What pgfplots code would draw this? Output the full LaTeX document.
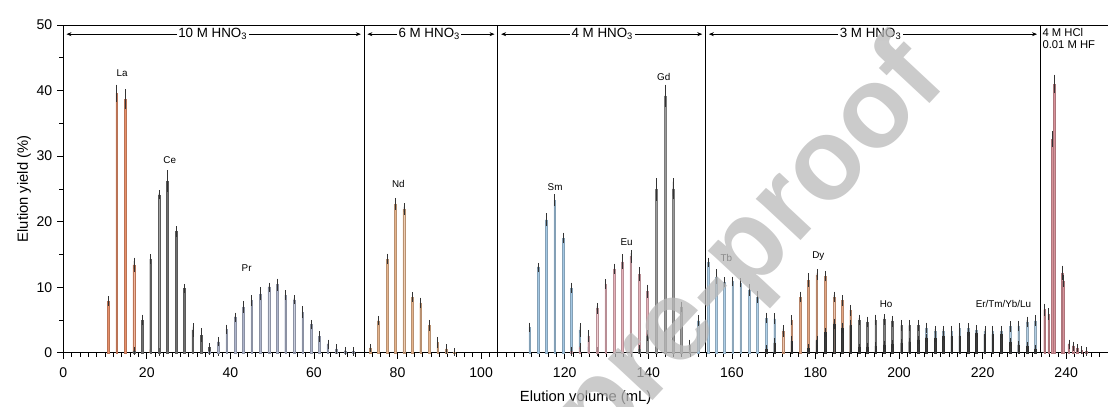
\documentclass[border=0pt]{standalone}
\usepackage{fontspec}
\setmainfont{Liberation Sans}
\usepackage{pgfplots}
\usepackage{pgfplotstable}
\pgfplotsset{compat=1.18}
\usetikzlibrary{arrows.meta}

\definecolor{cLa}{HTML}{E8906A}
\definecolor{cCe}{HTML}{707070}
\definecolor{cPr}{HTML}{AEB5CC}
\definecolor{cNd}{HTML}{E6B48C}
\definecolor{cSm}{HTML}{A4C8E4}
\definecolor{cEu}{HTML}{E6B2BA}
\definecolor{cGd}{HTML}{9A9A9A}
\definecolor{cTb}{HTML}{AFD0E8}
\definecolor{cDy}{HTML}{E4A683}
\definecolor{cHo}{HTML}{808080}
\definecolor{cEr}{HTML}{B2CDE2}
\definecolor{cLow}{HTML}{3C3C3C}
\definecolor{cHCl}{HTML}{D8929A}
\definecolor{wm}{HTML}{B9B9B9}

% elution fractions: x = volume (mL), y = yield (%), e = error
\pgfplotstableread{
x y e
10.8 7.9 0.2
12.8 39.6 0.8
14.8 38.7 1.0
16.9 13.4 0.6
18.9 2.0 0.2
20.9 0.5 0.2
22.9 0.1 0.1
}\tLa
\pgfplotstableread{
x y e
16.9 0.3 0.1
18.9 5.0 0.3
20.9 14.3 0.2
22.9 24.1 0.2
24.9 26.2 1.1
27.0 18.5 0.3
29.0 9.8 0.2
31.0 3.5 0.5
33.0 2.7 0.5
35.0 0.8 0.2
37.1 0.2 0.1
}\tCe
\pgfplotstableread{
x y e
35.0 0.3 0.1
37.1 1.7 0.2
39.1 3.6 0.2
41.1 5.4 0.2
43.1 7.0 0.4
45.1 8.0 0.3
47.2 9.0 0.5
49.2 10.0 0.2
51.2 10.4 0.4
53.2 8.8 0.2
55.2 8.1 0.2
57.3 6.2 0.4
59.3 4.3 0.2
61.3 2.5 0.3
63.3 1.3 0.2
65.3 0.6 0.2
67.4 0.3 0.1
69.4 0.2 0.1
}\tPr
\pgfplotstableread{
x y e
73.4 0.7 0.1
75.4 4.9 0.2
77.5 14.3 0.3
79.5 22.7 0.4
81.5 21.9 0.4
83.5 8.5 0.2
85.5 7.6 0.3
87.6 4.2 0.3
89.6 1.6 0.3
91.6 0.6 0.2
93.6 0.1 0.1
}\tNd
\pgfplotstableread{
x y e
111.6 3.9 0.2
113.6 13.0 0.2
115.6 20.3 0.5
117.6 23.3 0.4
119.6 17.5 0.3
121.6 9.9 0.3
123.6 3.5 0.5
125.7 0.9 0.2
127.7 0.2 0.1
}\tSm
\pgfplotstableread{
x y e
121.6 0.2 0.1
123.6 0.8 0.2
125.7 2.6 0.4
127.7 6.8 0.3
129.8 10.5 0.2
131.8 12.8 0.3
133.8 13.9 0.6
135.8 14.7 0.5
137.8 12.0 0.6
139.8 9.4 0.5
141.9 3.5 0.5
144.0 0.8 0.2
145.9 0.3 0.1
}\tEu
\pgfplotstableread{
x y e
137.8 0.5 0.2
139.8 2.6 0.3
141.9 24.9 1.2
144.0 39.2 1.2
145.9 25.0 1.1
147.9 7.0 0.3
149.9 1.2 0.3
}\tGd
\pgfplotstableread{
x y e
151.9 4.9 0.3
154.3 13.8 0.2
156.3 11.6 0.6
158.2 10.8 0.2
160.2 10.9 0.2
162.1 10.7 0.2
164.1 9.6 0.4
166.1 8.5 0.4
168.2 5.3 0.3
170.2 5.2 0.3
}\tTb
\pgfplotstableread{
x y e
172.2 3.3 0.4
174.3 5.0 0.2
176.4 8.5 0.3
178.3 11.1 0.5
180.3 11.9 0.3
182.3 11.7 0.3
184.4 8.5 0.3
186.4 8.0 0.3
188.4 6.5 0.3
}\tDy
\pgfplotstableread{
x y e
190.4 5.0 0.3
192.4 4.7 0.3
194.4 5.0 0.3
196.4 5.1 0.3
198.3 4.8 0.3
200.6 4.2 0.3
202.5 4.2 0.3
204.6 4.2 0.3
}\tHo
\pgfplotstableread{
x y e
206.5 3.8 0.3
208.6 3.3 0.3
210.5 3.3 0.3
212.6 3.3 0.3
214.5 3.7 0.3
216.6 3.7 0.3
218.5 3.4 0.3
220.5 3.3 0.3
222.4 3.3 0.3
224.5 3.3 0.3
226.6 4.0 0.3
228.6 4.1 0.3
230.6 4.7 0.3
232.6 4.9 0.3
}\tEr
\pgfplotstableread{
x y e
168.2 0.5 0.1
170.2 1.5 0.2
174.3 1.8 0.2
178.3 0.7 0.1
180.3 1.9 0.2
182.3 3.1 0.2
184.4 4.4 0.3
186.4 3.8 0.3
188.4 4.2 0.3
190.4 0.8 0.1
192.4 0.9 0.1
194.4 1.0 0.1
196.4 1.2 0.1
198.3 1.3 0.1
200.6 1.5 0.1
202.5 1.7 0.1
204.6 2.0 0.1
206.5 2.3 0.1
208.6 2.2 0.1
210.5 2.5 0.1
212.6 2.5 0.1
214.5 2.6 0.1
216.6 3.2 0.1
218.5 3.0 0.1
220.5 2.8 0.1
222.4 2.8 0.1
224.5 2.8 0.1
226.6 1.6 0.1
228.6 1.2 0.1
230.6 1.0 0.1
232.6 0.6 0.1
}\tLow
\pgfplotstableread{
x y e
234.8 6.6 0.4
235.8 5.9 0.4
237.1 41.0 0.9
239.1 12.2 0.6
240.6 1.3 0.2
241.6 1.0 0.2
242.6 0.7 0.1
243.7 0.4 0.1
244.8 0.2 0.1
}\tHCl
\pgfplotstableread{
x y e
236.6 32.6 0.7
239.3 11.0 0.4
}\tHClb

\pgfplotsset{
  elem/.style={ybar, bar width=0.4, fill=#1, draw=#1!80!black, line width=0.2pt,
    error bars/.cd, y dir=both, y explicit,
    error bar style={line width=0.3pt, black!80},
    error mark options={line width=0.3pt, black!80, mark size=2.4pt}},
}

\begin{document}
\begin{tikzpicture}
\begin{axis}[
  at={(15.8mm,13.3mm)}, anchor=south west,
  scale only axis, width=261.2mm, height=81.95mm,
  xmin=0, xmax=250, ymin=0, ymax=50,
  xtick distance=20, ytick={0,10,...,50},
  minor x tick num=9, minor y tick num=1,
  tick align=outside, xtick pos=left, ytick pos=left,
  axis line style={line width=0.7pt},
  tick style={line width=0.5pt, black},
  /pgf/number format/assume math mode=true,
  ticklabel style={font=\fontsize{10}{12}\selectfont},
  xticklabel style={yshift=-1mm},
  label style={font=\fontsize{10.5}{12}\selectfont},
  xlabel={Elution volume (mL)},
  ylabel={Elution yield (\%)},
  xlabel style={yshift=-0.8mm},
  ylabel style={yshift=-1mm},
  clip=false,
]
\addplot[elem=cLa] table[x=x,y=y,y error=e]{\tLa};
\addplot[elem=cCe] table[x=x,y=y,y error=e]{\tCe};
\addplot[elem=cPr] table[x=x,y=y,y error=e]{\tPr};
\addplot[elem=cNd] table[x=x,y=y,y error=e]{\tNd};
\addplot[elem=cSm] table[x=x,y=y,y error=e]{\tSm};
\addplot[elem=cEu] table[x=x,y=y,y error=e]{\tEu};
\addplot[elem=cGd] table[x=x,y=y,y error=e]{\tGd};
\addplot[elem=cTb] table[x=x,y=y,y error=e]{\tTb};
\addplot[elem=cDy] table[x=x,y=y,y error=e]{\tDy};
\addplot[elem=cHo] table[x=x,y=y,y error=e]{\tHo};
\addplot[elem=cEr] table[x=x,y=y,y error=e]{\tEr};
\addplot[elem=cLow] table[x=x,y=y,y error=e]{\tLow};
\addplot[elem=cHCl] table[x=x,y=y,y error=e]{\tHCl};
\addplot[elem=cHCl] table[x=x,y=y,y error=e]{\tHClb};

% eluent changes
\draw[black, line width=0.6pt] (axis cs:72,0) -- (axis cs:72,50);
\draw[black, line width=0.6pt] (axis cs:104,0) -- (axis cs:104,50);
\draw[black, line width=0.6pt] (axis cs:153.7,0) -- (axis cs:153.7,50);
\draw[black, line width=0.6pt] (axis cs:233.8,0) -- (axis cs:233.8,50);
\draw[line width=0.4pt, {Stealth[length=3.5pt,width=2.8pt]}-{Stealth[length=3.5pt,width=2.8pt]}] (axis cs:0.8,48.6) -- (axis cs:71.2,48.6);
\draw[line width=0.4pt, {Stealth[length=3.5pt,width=2.8pt]}-{Stealth[length=3.5pt,width=2.8pt]}] (axis cs:72.8,48.6) -- (axis cs:103.2,48.6);
\draw[line width=0.4pt, {Stealth[length=3.5pt,width=2.8pt]}-{Stealth[length=3.5pt,width=2.8pt]}] (axis cs:104.8,48.6) -- (axis cs:152.9,48.6);
\draw[line width=0.4pt, {Stealth[length=3.5pt,width=2.8pt]}-{Stealth[length=3.5pt,width=2.8pt]}] (axis cs:154.5,48.6) -- (axis cs:233.0,48.6);
\node[fill=white, inner sep=1pt, font=\fontsize{9.5}{11}\selectfont] at (axis cs:35.8,48.6) {10 M HNO\textsubscript{3}};
\node[fill=white, inner sep=1pt, font=\fontsize{9.5}{11}\selectfont] at (axis cs:87.6,48.6) {6 M HNO\textsubscript{3}};
\node[fill=white, inner sep=1pt, font=\fontsize{9.5}{11}\selectfont] at (axis cs:129,48.6) {4 M HNO\textsubscript{3}};
\node[fill=white, inner sep=1pt, font=\fontsize{9.5}{11}\selectfont] at (axis cs:193.2,48.6) {3 M HNO\textsubscript{3}};
\node[anchor=north west, align=left, inner sep=0.5pt, font=\fontsize{8}{8.5}\selectfont]
  at (axis cs:234.1,49.6) {4 M HCl\\0.01 M HF};

% element labels
\node[font=\fontsize{7}{8}\selectfont] at (axis cs:14.1,42.7) {La};
\node[font=\fontsize{7}{8}\selectfont] at (axis cs:25.5,29.4) {Ce};
\node[font=\fontsize{7}{8}\selectfont] at (axis cs:43.9,12.9) {Pr};
\node[font=\fontsize{7}{8}\selectfont] at (axis cs:80.2,25.7) {Nd};
\node[font=\fontsize{7}{8}\selectfont] at (axis cs:117.7,25.3) {Sm};
\node[font=\fontsize{7}{8}\selectfont] at (axis cs:134.8,16.9) {Eu};
\node[font=\fontsize{7}{8}\selectfont] at (axis cs:143.7,42.1) {Gd};
\node[font=\fontsize{7}{8}\selectfont] at (axis cs:158.7,14.4) {Tb};
\node[font=\fontsize{7}{8}\selectfont] at (axis cs:180.7,14.8) {Dy};
\node[font=\fontsize{7}{8}\selectfont] at (axis cs:196.9,7.4) {Ho};
\node[font=\fontsize{7}{8}\selectfont] at (axis cs:225,7.4) {Er/Tm/Yb/Lu};
\end{axis}
% journal watermark, laid over the figure
\begin{scope}
\clip (0,0) rectangle (277mm,101.5mm);
\node[rotate=47, text=wm, text opacity=0.75, font=\fontsize{82}{82}\selectfont\bfseries] at (188mm,39mm) {pre-proof};
\end{scope}
\pgfresetboundingbox
\useasboundingbox (0,0) rectangle (277mm,101.5mm);
\end{tikzpicture}
\end{document}
